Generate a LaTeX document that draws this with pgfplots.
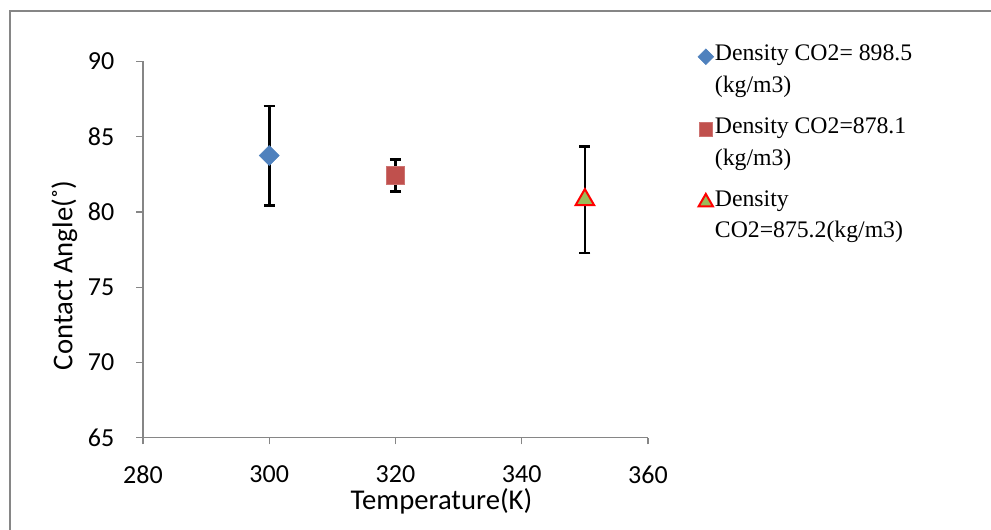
\documentclass[border=0pt]{standalone}
\usepackage{pgfplots}
\pgfplotsset{compat=1.18}
\usepackage{pgfplotstable}
\usepackage{fontspec}
\setmainfont{Liberation Serif}
\newfontfamily\calibri{Carlito}
\definecolor{axgray}{HTML}{868686}
\definecolor{cblue}{HTML}{4F81BD}
\definecolor{cred}{HTML}{C0504D}
\definecolor{cgreen}{HTML}{9BBB59}

\pgfplotstableread{
x y e
300 83.75 3.3
}\datablue
\pgfplotstableread{
x y e
320 82.42 1.08
}\datared
\pgfplotstableread{
x y e
350 80.81 3.54
}\datagreen

\begin{document}
\begin{tikzpicture}
\useasboundingbox (0,0) rectangle (743.25pt,396.75pt);
\draw[axgray, line width=0.9pt] (7.5pt,-5pt) -- (7.5pt,388.5pt) -- (760pt,388.5pt);
\begin{axis}[
  at={(107.25pt,68.5pt)}, anchor=south west,
  scale only axis, width=378.75pt, height=282.15pt,
  xmin=280, xmax=360, ymin=65, ymax=90,
  xtick={280,300,...,360}, ytick={65,70,...,90},
  axis x line*=bottom, axis y line*=left,
  axis line style={axgray, line width=1pt, -},
  tick style={axgray, line width=1pt},
  tick align=outside, major tick length=5pt,
  tick label style={font=\calibri\fontsize{19.5}{23}\selectfont, /pgf/number format/assume math mode=true},
  xticklabel style={anchor=north, inner sep=0pt, yshift=-16pt},
  yticklabel style={anchor=east, inner sep=0pt, xshift=-16.3pt},
  xlabel={Temperature(K)},
  ylabel={Contact Angle(˚)},
  label style={font=\calibri\fontsize{21.5}{26}\selectfont},
  xlabel style={at={([yshift=-53.7pt]axis description cs:0.591,0)}, anchor=base},
  ylabel style={at={([xshift=-53pt]axis description cs:0,0.431)}, anchor=base},
  legend image code/.code={\draw[mark repeat=2,mark phase=2,#1,/tikz/every mark/.append style={scale=0.78}] plot coordinates {(0pt,2pt)(6pt,2pt)(12pt,2pt)};},
  legend style={draw=none, fill=none, inner sep=0pt, outer sep=0pt,
    at={(axis description cs:1.099,1.0596)}, anchor=north west,
    font=\fontsize{17.8}{21.75}\selectfont, row sep=24pt,
    nodes={inner sep=1pt}, cells={anchor=west}},
  legend cell align=left,
]
\addplot[forget plot, only marks, mark=none, error bars/.cd, y dir=both, y explicit,
  error bar style={draw=black, line width=2pt},
  error mark options={draw=black, line width=2pt, mark size=4.2pt, rotate=90}]
  table[x=x, y=y, y error=e] {\datablue};
\addplot[forget plot, only marks, mark=none, error bars/.cd, y dir=both, y explicit,
  error bar style={draw=black, line width=2pt},
  error mark options={draw=black, line width=2pt, mark size=4.2pt, rotate=90}]
  table[x=x, y=y, y error=e] {\datared};
\addplot[forget plot, only marks, mark=none, error bars/.cd, y dir=both, y explicit,
  error bar style={draw=black, line width=2pt},
  error mark options={draw=black, line width=2pt, mark size=4.2pt, rotate=90}]
  table[x=x, y=y, y error=e] {\datagreen};
\addplot[only marks, mark=square*, mark size=5.3pt, mark options={rotate=45, fill=cblue, draw=cblue, line width=0.5pt}]
  table[x=x, y=y] {\datablue};
\addlegendentry{\begin{tabular}{@{}l@{}}Density CO2= 898.5\\[2pt](kg/m3)\end{tabular}}
\addplot[only marks, mark=square*, mark size=6.5pt, mark options={fill=cred, draw=cred!80!white, line width=0.6pt}]
  table[x=x, y=y] {\datared};
\addlegendentry{\begin{tabular}{@{}l@{}}Density CO2=878.1\\[2pt](kg/m3)\end{tabular}}
\addplot[only marks, mark=triangle*, mark size=8pt, mark options={fill=cgreen, draw=red, line width=1.5pt}]
  table[x=x, y=y] {\datagreen};
\addlegendentry{\begin{tabular}{@{}l@{}}Density\\[2pt]CO2=875.2(kg/m3)\end{tabular}}
\end{axis}
\end{tikzpicture}
\end{document}
